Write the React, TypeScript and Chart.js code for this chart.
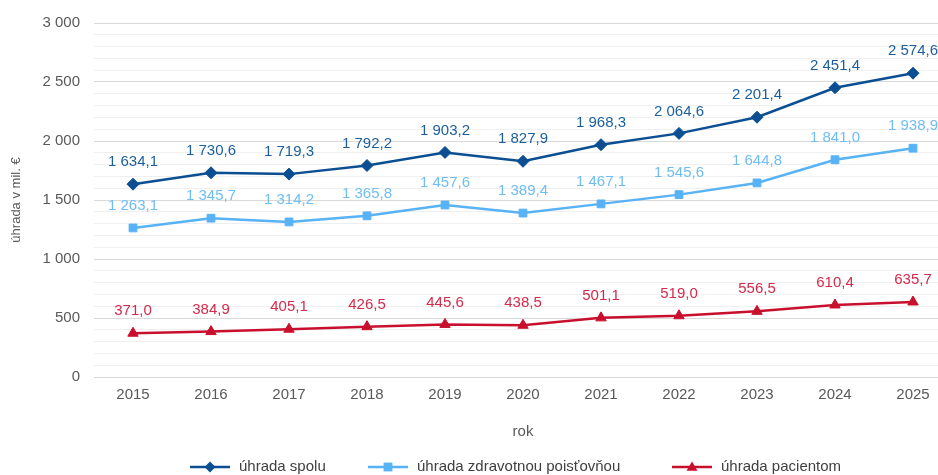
import React, { useEffect, useRef } from "react";
import { Chart, registerables } from "chart.js";

Chart.register(...registerables);

const years = ["2015", "2016", "2017", "2018", "2019", "2020", "2021", "2022", "2023", "2024", "2025"];
const uhradaSpolu = [1634.1, 1730.6, 1719.3, 1792.2, 1903.2, 1827.9, 1968.3, 2064.6, 2201.4, 2451.4, 2574.6];
const uhradaPoistovnou = [1263.1, 1345.7, 1314.2, 1365.8, 1457.6, 1389.4, 1467.1, 1545.6, 1644.8, 1841.0, 1938.9];
const uhradaPacientom = [371.0, 384.9, 405.1, 426.5, 445.6, 438.5, 501.1, 519.0, 556.5, 610.4, 635.7];
const seriesNames = ["úhrada spolu", "úhrada zdravotnou poisťovňou", "úhrada pacientom"];

const lineColors = ["#0b4f92", "#58b2f6", "#c8102e"];
const labelColors = ["#1c5f9e", "#6fbdf5", "#d42a4c"];
const FONT = "'Liberation Sans', Arial, sans-serif";

function fmtThousands(v: number): string {
  const s = Math.round(v).toString();
  return s.replace(/\B(?=(\d{3})+(?!\d))/g, " ");
}
function fmtValue(v: number): string {
  const [i, d] = v.toFixed(1).split(".");
  return fmtThousands(parseInt(i, 10)) + "," + d;
}

function drawMarker(ctx: CanvasRenderingContext2D, style: string, x: number, y: number, r: number) {
  ctx.beginPath();
  if (style === "rectRot") {
    ctx.moveTo(x, y - r);
    ctx.lineTo(x + r, y);
    ctx.lineTo(x, y + r);
    ctx.lineTo(x - r, y);
  } else if (style === "rect") {
    ctx.rect(x - r * 0.8, y - r * 0.8, r * 1.6, r * 1.6);
  } else {
    ctx.moveTo(x, y - r);
    ctx.lineTo(x + r, y + r * 0.7);
    ctx.lineTo(x - r, y + r * 0.7);
  }
  ctx.closePath();
  ctx.fill();
}

const dataLabelPlugin = {
  id: "dataLabels",
  afterDatasetsDraw(chart: any) {
    const ctx = chart.ctx;
    ctx.save();
    ctx.font = `15px ${FONT}`;
    ctx.textAlign = "center";
    ctx.textBaseline = "middle";
    chart.data.datasets.forEach((ds: any, di: number) => {
      const meta = chart.getDatasetMeta(di);
      ctx.fillStyle = labelColors[di];
      meta.data.forEach((pt: any, i: number) => {
        ctx.fillText(fmtValue(ds.data[i]), pt.x, pt.y - 22);
      });
    });
    ctx.restore();
  },
};

const legendStarts = [190, 368, 672];
const legendPlugin = {
  id: "customLegend",
  afterDraw(chart: any) {
    const ctx = chart.ctx;
    ctx.save();
    ctx.font = `15px ${FONT}`;
    ctx.textBaseline = "middle";
    const lineLen = 40;
    const gapText = 9;
    const styles = ["rectRot", "rect", "triangle"];
    const y = 467;
    seriesNames.forEach((name, i) => {
      const x = legendStarts[i];
      ctx.strokeStyle = lineColors[i];
      ctx.fillStyle = lineColors[i];
      ctx.lineWidth = 2.5;
      ctx.beginPath();
      ctx.moveTo(x, y);
      ctx.lineTo(x + lineLen, y);
      ctx.stroke();
      drawMarker(ctx, styles[i], x + lineLen / 2, y, 5.5);
      ctx.fillStyle = "#404040";
      ctx.fillText(name, x + lineLen + gapText, y);
    });
    ctx.restore();
  },
};

export default function App() {
  const ref = useRef<HTMLCanvasElement | null>(null);
  useEffect(() => {
    if (!ref.current) return;
    const mk = (label: string, data: number[], i: number, pointStyle: string, radius: number) => ({
      label,
      data,
      borderColor: lineColors[i],
      backgroundColor: lineColors[i],
      pointBackgroundColor: lineColors[i],
      pointBorderColor: lineColors[i],
      borderWidth: 2.5,
      pointStyle,
      pointRadius: radius,
      pointBorderWidth: 1,
      tension: 0,
    });
    const chart = new Chart(ref.current, {
      type: "line",
      data: {
        labels: years,
        datasets: [
          mk(seriesNames[0], uhradaSpolu, 0, "rectRot", 6),
          mk(seriesNames[1], uhradaPoistovnou, 1, "rect", 5.5),
          mk(seriesNames[2], uhradaPacientom, 2, "triangle", 6),
        ],
      },
      options: {
        responsive: false,
        animation: false,
        devicePixelRatio: 1,
        layout: { padding: { top: 23, right: 16, bottom: 30, left: 0 } },
        plugins: {
          legend: { display: false },
          tooltip: { enabled: false },
        },
        scales: {
          x: {
            offset: true,
            grid: { display: false, drawTicks: false },
            border: { display: false },
            ticks: { color: "#595959", font: { family: FONT, size: 15 }, padding: 9, maxRotation: 0 },
            title: {
              display: true,
              text: "rok",
              color: "#595959",
              font: { family: FONT, size: 15 },
              padding: { top: 4, bottom: 4 },
            },
            afterFit(scale: any) {
              scale.height = 68;
            },
          },
          y: {
            min: 0,
            max: 3000,
            grid: {
              drawTicks: false,
              color: (c: any) => (c.tick && c.tick.value % 500 === 0 ? "#d9d9d9" : "#efefef"),
              lineWidth: 1,
            },
            border: { display: false },
            ticks: {
              stepSize: 100,
              autoSkip: false,
              padding: 14,
              color: "#595959",
              font: { family: FONT, size: 15 },
              callback: (v: any) => (Number(v) % 500 === 0 ? fmtThousands(Number(v)) : ""),
            },
            title: {
              display: true,
              text: "úhrada v mil. €",
              color: "#595959",
              font: { family: FONT, size: 13 },
              padding: { top: 9, bottom: 0 },
            },
            afterFit(scale: any) {
              scale.width = 94;
            },
          },
        },
      },
      plugins: [dataLabelPlugin, legendPlugin],
    } as any);
    return () => chart.destroy();
  }, []);
  return (
    <div style={{ position: "fixed", left: 0, top: 0, width: 938, height: 475, overflow: "hidden", background: "#fff" }}>
      <canvas ref={ref} width={968} height={475} style={{ width: 968, height: 475, display: "block" }} />
    </div>
  );
}
